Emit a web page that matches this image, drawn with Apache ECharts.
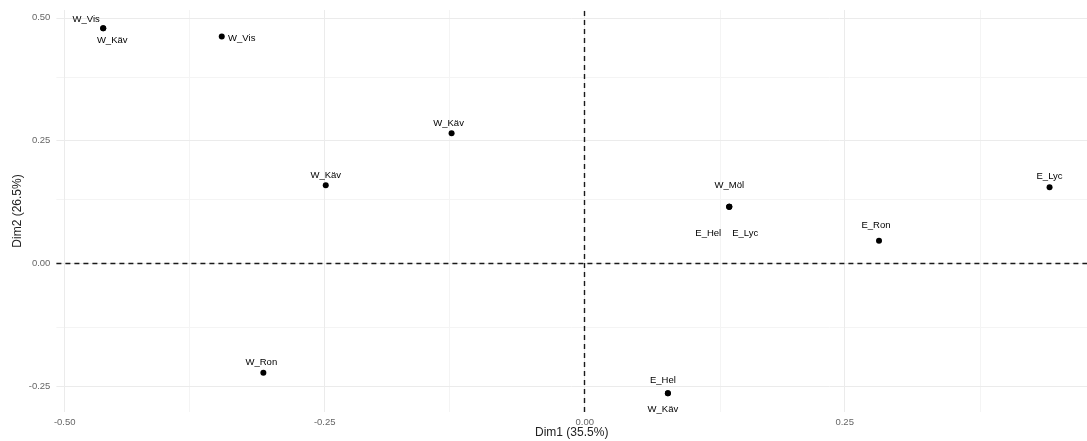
<!DOCTYPE html>
<html>
<head>
<meta charset="utf-8">
<script src="https://cdn.jsdelivr.net/npm/echarts@6/dist/echarts.min.js"></script>
<style>
  html, body { margin: 0; padding: 0; background: #ffffff; }
  #chart { width: 1087px; height: 441px; }
</style>
</head>
<body>
<div id="chart"></div>
<script>
// Site scores on the first two dimensions
const pointNames = ['W_Vis', 'W_Käv', 'W_Vis', 'W_Käv', 'W_Käv', 'W_Möl', 'E_Hel', 'E_Lyc', 'E_Ron', 'E_Lyc', 'W_Ron', 'E_Hel', 'W_Käv'];
const dim1 = [-0.463, -0.463, -0.349, -0.128, -0.249, 0.139, 0.139, 0.139, 0.283, 0.447, -0.309, 0.080, 0.080];
const dim2 = [0.479, 0.479, 0.462, 0.265, 0.159, 0.115, 0.115, 0.115, 0.046, 0.155, -0.223, -0.265, -0.265];

// Axis ticks and grid lines
const xTicks = [-0.5, -0.25, 0, 0.25];
const yTicks = [-0.25, 0, 0.25, 0.5];
const xMinorGrid = [-0.375, -0.125, 0.125, 0.375];
const yMinorGrid = [-0.125, 0.125, 0.375];
const refLines = [0];

const xTitle = 'Dim1 (35.5%)';
const yTitle = 'Dim2 (26.5%)';

// Label placement (pixel offsets of the label centre from each point), repelled by hand
const labelOffsets = [
  [-17, -9], [9, 12], [20, 2], [-3, -10], [0, -10],
  [0, -21], [-21, 27], [16, 27], [-3, -15], [0, -11],
  [-2, -10], [-5, -13], [-5, 16]
];

const FONT = '"Liberation Sans", Arial, Helvetica, sans-serif';
const SYMBOL_SIZE = 6;
const half = SYMBOL_SIZE / 2;

const points = pointNames.map((n, i) => ({
  name: n,
  value: [dim1[i], dim2[i]],
  label: {
    // position is measured from the symbol's top-left corner
    position: [half + labelOffsets[i][0], half + labelOffsets[i][1]],
    align: 'center',
    verticalAlign: 'middle'
  }
}));

const majorStyle = { color: '#ebebeb', width: 1, type: 'solid' };
const minorStyle = { color: '#f4f4f4', width: 1, type: 'solid' };

const gridLineData = []
  .concat(xMinorGrid.map(v => ({ xAxis: v, lineStyle: minorStyle })))
  .concat(yMinorGrid.map(v => ({ yAxis: v, lineStyle: minorStyle })))
  .concat(xTicks.map(v => ({ xAxis: v, lineStyle: majorStyle })))
  .concat(yTicks.map(v => ({ yAxis: v, lineStyle: majorStyle })));

const refLineData = []
  .concat(refLines.map(v => ({ xAxis: v })))
  .concat(refLines.map(v => ({ yAxis: v })));

const fmt = v => v.toFixed(2);

const chart = echarts.init(document.getElementById('chart'), null, { renderer: 'canvas' });
chart.setOption({
  animation: false,
  backgroundColor: '#ffffff',
  grid: { left: 56.4, right: 0, top: 10, bottom: 29, containLabel: false, outerBoundsMode: 'none' },
  xAxis: {
    type: 'value',
    min: -0.508,
    max: 0.483,
    name: xTitle,
    nameLocation: 'middle',
    nameGap: 15,
    nameMoveOverlap: false,
    nameTextStyle: { fontFamily: FONT, fontSize: 12, color: '#222' },
    axisLine: { show: false },
    splitLine: { show: false },
    axisTick: { show: true, customValues: xTicks, length: 2.5, lineStyle: { color: '#555', width: 1 } },
    axisLabel: { customValues: xTicks, formatter: fmt, fontFamily: FONT, fontSize: 9.5, color: '#666', margin: 5 }
  },
  yAxis: {
    type: 'value',
    min: -0.303,
    max: 0.516,
    name: yTitle,
    nameLocation: 'middle',
    nameGap: 33,
    nameMoveOverlap: false,
    nameRotate: 90,
    nameTextStyle: { fontFamily: FONT, fontSize: 12, color: '#222' },
    axisLine: { show: false },
    splitLine: { show: false },
    axisTick: { show: true, customValues: yTicks, length: 2.5, lineStyle: { color: '#555', width: 1 } },
    axisLabel: { customValues: yTicks, formatter: fmt, fontFamily: FONT, fontSize: 9.5, color: '#666', margin: 6 }
  },
  series: [
    {
      name: 'grid',
      type: 'scatter',
      z: 1,
      silent: true,
      symbolSize: 0,
      data: [[0, 0]],
      markLine: {
        z: 1,
        silent: true,
        symbol: 'none',
        label: { show: false },
        emphasis: { disabled: true },
        lineStyle: { type: 'solid' },
        data: gridLineData
      }
    },
    {
      name: 'reference',
      type: 'scatter',
      z: 2,
      silent: true,
      symbolSize: 0,
      data: [[0, 0]],
      markLine: {
        z: 2,
        silent: true,
        symbol: 'none',
        label: { show: false },
        emphasis: { disabled: true },
        lineStyle: { color: '#1a1a1a', width: 1.4, type: [5, 4] },
        data: refLineData
      }
    },
    {
      name: 'sites',
      type: 'scatter',
      z: 10,
      symbol: 'circle',
      symbolSize: SYMBOL_SIZE,
      itemStyle: { color: '#000', opacity: 1 },
      label: {
        show: true,
        formatter: p => p.name,
        fontFamily: FONT,
        fontSize: 9.5,
        color: '#000'
      },
      labelLayout: { hideOverlap: false },
      data: points
    }
  ]
});
</script>
</body>
</html>
